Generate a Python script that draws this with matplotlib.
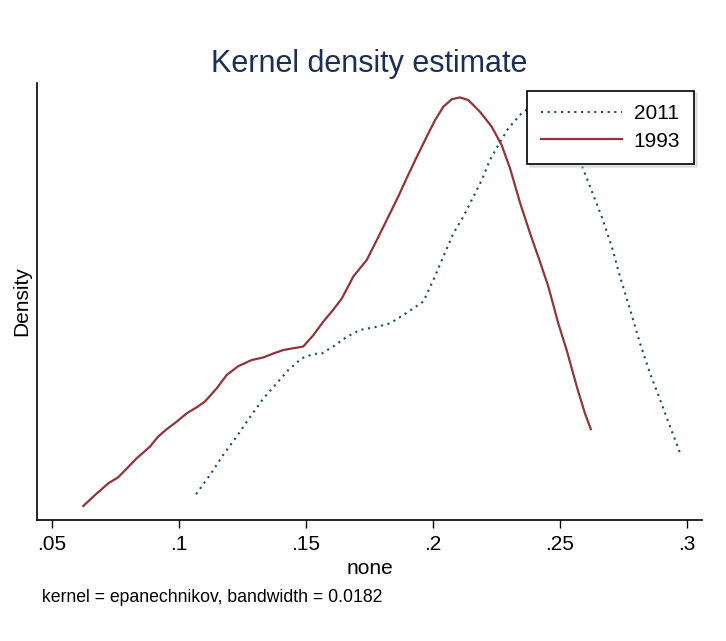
"""
kdensity.py
---------------------------------------
Kernel density estimate, 1993 vs 2011
"""

import matplotlib
matplotlib.use("Agg")
import matplotlib.pyplot as plt


plt.rcParams["font.family"] = ["Liberation Sans", "DejaVu Sans"]

########################################################

x_1993 = [
    0.0623, 0.0669, 0.0722, 0.0761, 0.0800, 0.0833, 0.0886, 0.0918,
    0.0952, 0.0991, 0.1030, 0.1070, 0.1102, 0.1148, 0.1188, 0.1233,
    0.1286, 0.1332, 0.1371, 0.1411, 0.1489, 0.1529, 0.1568, 0.1607,
    0.1641, 0.1686, 0.1739, 0.1785, 0.1824, 0.1863, 0.1896, 0.1936,
    0.1975, 0.2008, 0.2041, 0.2074, 0.2106, 0.2139, 0.2185, 0.2231,
    0.2270, 0.2303, 0.2343, 0.2382, 0.2421, 0.2454, 0.2493, 0.2526,
    0.2566, 0.2598, 0.2621
]

y_1993 = [
    0.32, 0.57, 0.84, 0.98, 1.21, 1.41, 1.68, 1.91,
    2.08, 2.25, 2.44, 2.58, 2.71, 3.01, 3.32, 3.52,
    3.66, 3.72, 3.81, 3.89, 3.97, 4.23, 4.54, 4.81,
    5.07, 5.57, 5.95, 6.48, 6.94, 7.40, 7.82, 8.31,
    8.77, 9.15, 9.46, 9.63, 9.67, 9.61, 9.34, 9.00,
    8.58, 8.05, 7.25, 6.56, 5.91, 5.34, 4.50, 3.89,
    3.05, 2.44, 2.08
]

x_2011 = [
    0.1067, 0.1122, 0.1174, 0.1227, 0.1280, 0.1332, 0.1385, 0.1430,
    0.1483, 0.1529, 0.1562, 0.1607, 0.1660, 0.1713, 0.1778, 0.1831,
    0.1883, 0.1962, 0.2001, 0.2041, 0.2080, 0.2119, 0.2159, 0.2192,
    0.2224, 0.2257, 0.2296, 0.2349, 0.2390, 0.2429, 0.2469, 0.2508,
    0.2547, 0.2585, 0.2618, 0.2664, 0.2704, 0.2736, 0.2776, 0.2815,
    0.2854, 0.2894, 0.2933, 0.2975
]

y_2011 = [
    0.59, 1.03, 1.49, 1.91, 2.36, 2.78, 3.13, 3.43,
    3.70, 3.80, 3.81, 3.97, 4.19, 4.35, 4.42, 4.50,
    4.69, 5.00, 5.49, 6.03, 6.56, 6.94, 7.40, 7.78,
    8.24, 8.58, 8.96, 9.31, 9.47, 9.54, 9.52, 9.34,
    8.90, 8.12, 7.63, 6.94, 6.25, 5.57, 4.81, 4.04,
    3.36, 2.75, 2.14, 1.49
]

xticks = [0.05, 0.1, 0.15, 0.2, 0.25, 0.3]
xtick_labels = [".05", ".1", ".15", ".2", ".25", ".3"]

########################################################

fig = plt.figure(figsize=(7.26, 6.41), dpi=100)

ax = fig.add_axes([0.051, 0.1888, 0.916, 0.6817])

ax.plot(
    x_2011, y_2011,
    color="#1A476F",
    linestyle=(0, (1, 2.2)),
    linewidth=1.5,
    label="2011"
)

ax.plot(
    x_1993, y_1993,
    color="#90353B",
    linewidth=1.6,
    label="1993"
)

ax.set_xlim(0.0441, 0.3059)
ax.set_ylim(0, 10)

ax.spines["top"].set_visible(False)
ax.spines["right"].set_visible(False)
ax.spines["left"].set_linewidth(1.2)
ax.spines["bottom"].set_linewidth(1.2)

ax.set_xticks(xticks)
ax.set_xticklabels(xtick_labels)
ax.set_yticks([])

ax.tick_params(axis="x", length=6, width=1, labelsize=15, pad=4.5)

ax.set_xlabel("none", fontsize=15, labelpad=4)
ax.set_ylabel("Density", fontsize=15, labelpad=4)

########################################################

fig.text(
    0.509, 0.888,
    "Kernel density estimate",
    ha="center", va="baseline",
    fontsize=22,
    color="#1C2E55"
)

fig.text(
    0.0574, 0.0608,
    "kernel = epanechnikov, bandwidth = 0.0182",
    ha="left", va="baseline",
    fontsize=12.7,
    color="black"
)

leg = ax.legend(
    loc="upper left",
    bbox_to_anchor=(0.7263, 0.8585),
    bbox_transform=fig.transFigure,
    borderaxespad=0,
    fontsize=15,
    handlelength=3.9,
    handletextpad=0.56,
    borderpad=0.65,
    labelspacing=0.4,
    fancybox=False,
    framealpha=1,
    edgecolor="black",
    shadow={"color": "0.8", "alpha": 0.5}
)
leg.get_frame().set_linewidth(1.2)

plt.savefig("out.png", dpi=100)
